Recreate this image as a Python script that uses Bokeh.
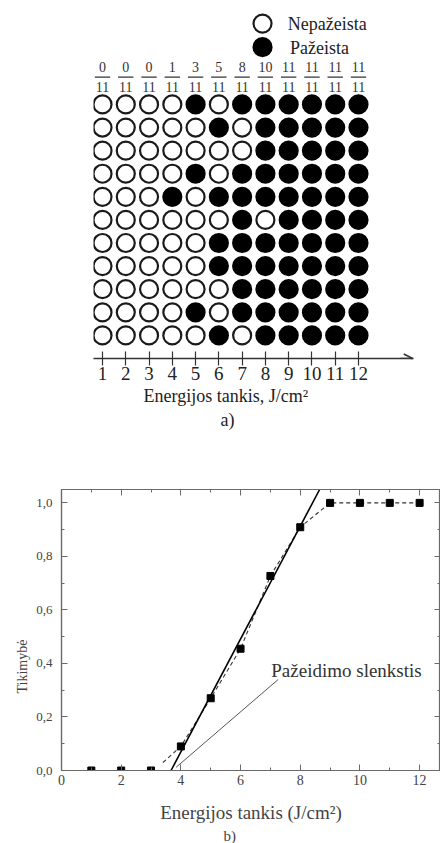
import math
from bokeh.plotting import figure
from bokeh.models import (FixedTicker, Arrow, OpenHead, LinearAxis,
                          Range1d, Title)
from bokeh.core.properties import value
from bokeh.embed import file_html
from bokeh.resources import INLINE

SERIF = "Liberation Serif"

# ---------------- data: a) shot map ----------------
energy_levels = [1, 2, 3, 4, 5, 6, 7, 8, 9, 10, 11, 12]
# 11 shots per energy level, top row first; "1" = damaged, "0" = not damaged
shot_grid = [
    "000010111111",
    "000001011111",
    "000000011111",
    "000010111111",
    "000101111111",
    "000000101111",
    "000001111111",
    "000001111111",
    "000000111111",
    "000010111111",
    "000001011111",
]
damaged_counts = [0, 0, 0, 1, 3, 5, 8, 10, 11, 11, 11, 11]
shots_total = [11, 11, 11, 11, 11, 11, 11, 11, 11, 11, 11, 11]
legend_labels = ["Nepažeista", "Pažeista"]
top_xlabel = "Energijos tankis, J/cm²"

# ---------------- data: b) probability ----------------
prob_x = [1, 2, 3, 4, 5, 6, 7, 8, 9, 10, 11, 12]
prob_y = [0.0, 0.0, 0.0, 0.09, 0.27, 0.455, 0.727, 0.909, 1.0, 1.0, 1.0, 1.0]
dash_x = [3.4, 4, 5, 6, 7, 8, 9, 10, 11, 12]
dash_y = [0.03, 0.09, 0.27, 0.455, 0.727, 0.909, 1.0, 1.0, 1.0, 1.0]
fit_x = [3.67, 8.65]
fit_y = [0.0, 1.05]
threshold_x = [7.26, 3.84]
threshold_y = [0.34, 0.012]
threshold_label = "Pažeidimo slenkstis"
y_ticks = [0.0, 0.2, 0.4, 0.6, 0.8, 1.0]
y_minor = [0.1, 0.3, 0.5, 0.7, 0.9]
x_ticks = [0, 2, 4, 6, 8, 10, 12]
x_minor = [1, 3, 5, 7, 9, 11]
bottom_xlabel = "Energijos tankis (J/cm²)"
bottom_ylabel = "Tikimybė"

# ================= figure a) =================
p1 = figure(width=440, height=441, x_range=Range1d(0.613, 14.364),
            y_range=Range1d(0, 15.5), output_backend="svg",
            toolbar_location=None, y_axis_location=None,
            min_border_left=93, min_border_right=27,
            min_border_top=0, min_border_bottom=83)
p1.outline_line_color = None
p1.grid.visible = False
ax = p1.xaxis[0]
ax.ticker = FixedTicker(ticks=energy_levels, minor_ticks=[])
ax.major_tick_in = 7
ax.major_tick_out = 7
ax.major_tick_line_color = "#333333"
ax.major_tick_line_width = 1.2
ax.axis_line_color = "#333333"
ax.axis_line_width = 1.5
ax.major_label_text_font = SERIF
ax.major_label_text_font_size = "19px"
ax.major_label_text_color = "#222222"
ax.major_label_standoff = 1

open_x, open_y, hit_x, hit_y = [], [], [], []
n_rows = len(shot_grid)
for i, row in enumerate(shot_grid):
    for j, ch in enumerate(row):
        if ch == "1":
            hit_x.append(energy_levels[j]); hit_y.append(n_rows - i)
        else:
            open_x.append(energy_levels[j]); open_y.append(n_rows - i)

p1.scatter(open_x, open_y, size=18, marker="circle", fill_color="white",
           line_color="#1a1a1a", line_width=2.2)
p1.scatter(hit_x, hit_y, size=18, marker="circle", fill_color="black",
           line_color="black", line_width=2.2)

p1.add_layout(Arrow(end=OpenHead(size=9, line_width=1.5, line_color="#333333"),
                    x_start=13.8, y_start=0, x_end=14.33, y_end=0,
                    line_color="#333333", line_width=1.5))

# fractions
p1.text(x=energy_levels, y=[12.6] * 12, text=[str(n) for n in damaged_counts],
        text_font=value(SERIF), text_font_size="14px", text_align="center",
        text_baseline="middle", text_color="#333333")
p1.segment(x0=[e - 0.33 for e in energy_levels], y0=[12.18] * 12,
           x1=[e + 0.33 for e in energy_levels], y1=[12.18] * 12,
           line_color="#333333", line_width=1.3)
p1.text(x=energy_levels, y=[11.74] * 12, text=[str(n) for n in shots_total],
        text_font=value(SERIF), text_font_size="14px", text_align="center",
        text_baseline="middle", text_color="#333333")

# legend (drawn)
p1.scatter([7.876], [14.5], size=18, marker="circle", fill_color="white",
           line_color="#1a1a1a", line_width=2.2)
p1.scatter([7.876], [13.48], size=18, marker="circle", fill_color="black",
           line_color="black", line_width=2.2)
p1.text(x=[8.96, 9.06], y=[14.5, 13.45], text=legend_labels,
        text_font=value(SERIF), text_font_size="18px", text_align="left",
        text_baseline="middle", text_color="#222222")

p1.add_layout(Title(text=top_xlabel, align="left", offset=50, standoff=3,
                    text_font=SERIF, text_font_size="18px",
                    text_font_style="normal", text_color="#222222"), "below")
p1.add_layout(Title(text="a)", align="left", offset=127, standoff=0,
                    text_font=SERIF, text_font_size="18px",
                    text_font_style="normal", text_color="#222222"), "below")

# ================= figure b) =================
GRAY = "#6a6a6a"
TXT = "#444444"
p2 = figure(width=440, height=402, x_range=Range1d(0, 12.7),
            y_range=Range1d(0, 1.05), output_backend="svg",
            toolbar_location=None, min_border_left=61, min_border_right=0,
            min_border_top=48, min_border_bottom=70)
p2.grid.visible = False
p2.outline_line_color = GRAY
p2.outline_line_width = 1.2

xa = p2.xaxis[0]
xa.ticker = FixedTicker(ticks=x_ticks, minor_ticks=x_minor)
ya = p2.yaxis[0]
ya.ticker = FixedTicker(ticks=y_ticks, minor_ticks=y_minor)
ya.major_label_overrides = {t: f"{t:.1f}".replace(".", ",") for t in y_ticks}
for a in (xa, ya):
    a.major_tick_in = 6
    a.major_tick_out = 0
    a.minor_tick_in = 3
    a.minor_tick_out = 0
    a.axis_line_color = GRAY
    a.axis_line_width = 1.2
    a.major_tick_line_color = GRAY
    a.minor_tick_line_color = GRAY
    a.major_label_text_font = SERIF
    a.major_label_text_color = TXT
xa.major_label_text_font_size = "14px"
ya.major_label_text_font_size = "13px"
xa.major_label_standoff = 4
ya.major_label_standoff = 9
xa.axis_label = bottom_xlabel
xa.axis_label_text_font = SERIF
xa.axis_label_text_font_style = "normal"
xa.axis_label_text_font_size = "19px"
xa.axis_label_text_color = TXT
xa.axis_label_standoff = 14

for loc, tk, mn in (("above", x_ticks, x_minor), ("right", y_ticks, y_minor)):
    ex = LinearAxis(ticker=FixedTicker(ticks=tk, minor_ticks=mn),
                    major_label_overrides={t: "" for t in tk},
                    major_label_text_font_size="1px", major_label_standoff=0,
                    major_tick_in=6, major_tick_out=0,
                    minor_tick_in=3, minor_tick_out=0, axis_line_color=GRAY,
                    major_tick_line_color=GRAY, minor_tick_line_color=GRAY)
    p2.add_layout(ex, loc)

p2.line(dash_x, dash_y, line_color="#333333", line_width=1.1, line_dash="4 3")
p2.line(fit_x, fit_y, line_color="black", line_width=1.6)
p2.line(threshold_x, threshold_y, line_color="#555555", line_width=1)
p2.scatter(prob_x, prob_y, marker="square", size=7, fill_color="black",
           line_color="black")
p2.text(x=[7.03], y=[0.375], text=[threshold_label], text_font=value(SERIF),
        text_font_size="19px", text_align="left", text_baseline="middle",
        text_color="#333333")

p2.add_layout(Title(text=bottom_ylabel, align="left", offset=77, standoff=8,
                    text_font=SERIF, text_font_size="14px",
                    text_font_style="normal", text_color=TXT), "left")
p2.add_layout(Title(text="b)", align="left", offset=162, standoff=0,
                    text_font=SERIF, text_font_size="15px",
                    text_font_style="normal", text_color=TXT), "below")

open("out.html", "w").write(file_html([p1, p2], INLINE))
